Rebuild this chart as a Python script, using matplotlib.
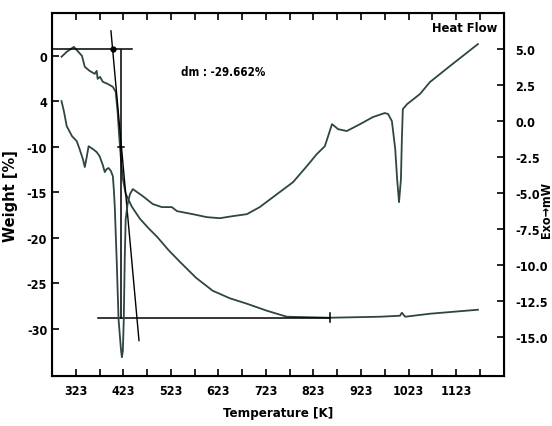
import matplotlib
matplotlib.use("Agg")
import matplotlib.pyplot as plt
import numpy as np

plt.rcParams['font.family'] = ['DejaVu Sans']
plt.rcParams['font.stretch'] = 'condensed'
plt.rcParams['font.weight'] = 'bold'

# TG curve (weight %)
tg_temp = [293, 304, 319, 336, 342, 352, 363, 367, 369, 374, 380, 390, 401, 407,
           411, 414, 418, 422, 428, 441, 458, 476, 494, 518, 542, 576, 611, 647,
           683, 725, 767, 858, 963, 1005, 1009, 1016, 1068, 1169]
tg_weight = [-0.1, 0.44, 0.99, 0.0, -1.21, -1.65, -1.98, -1.65, -2.53, -2.31, -2.86,
             -3.08, -3.41, -3.96, -6.15, -8.57, -11.32, -13.52, -15.16, -16.59,
             -17.91, -18.95, -19.89, -21.35, -22.64, -24.4, -25.82, -26.65,
             -27.25, -28.02, -28.68, -28.79, -28.68, -28.57, -28.24, -28.68,
             -28.35, -27.91]

# DSC curve (heat flow mW)
dsc_temp = [293, 298, 304, 315, 325, 331, 338, 342, 346, 350, 359, 367, 373, 380,
            384, 388, 392, 397, 401, 403, 405, 409, 413, 418, 420, 422, 424, 426,
            428, 432, 437, 443, 464, 485, 504, 525, 536, 569, 599, 626, 653, 683,
            710, 752, 780, 809, 830, 847, 862, 875, 893, 921, 948, 973, 980, 988,
            995, 999, 1003, 1007, 1009, 1011, 1020, 1047, 1068, 1110, 1169]
dsc_flow = [1.39, 0.69, -0.35, -1.04, -1.39, -1.94, -2.64, -3.19, -2.5, -1.74,
            -1.94, -2.15, -2.43, -3.06, -3.54, -3.33, -3.26, -3.47, -3.82, -4.72,
            -5.9, -9.58, -13.75, -15.83, -16.39, -15.97, -13.75, -9.58, -6.81,
            -5.76, -5.07, -4.72, -5.21, -5.76, -5.97, -5.97, -6.25, -6.46, -6.67,
            -6.74, -6.6, -6.46, -5.97, -4.93, -4.24, -3.13, -2.29, -1.74, -0.21,
            -0.56, -0.69, -0.21, 0.28, 0.56, 0.49, 0.0, -1.94, -4.03, -5.63,
            -4.03, -1.25, 0.83, 1.18, 1.88, 2.71, 3.82, 5.35]

weight_ticks = [0, -5, -10, -15, -20, -25, -30]
weight_labels = ['0', '4', '-10', '-15', '-20', '-25', '-30']
flow_ticks = [5.0, 2.5, 0.0, -2.5, -5.0, -7.5, -10.0, -12.5, -15.0]
temp_ticks = [323, 423, 523, 623, 723, 823, 923, 1023, 1123]

curve_color = '#2e4544'

fig = plt.figure(figsize=(5.52, 4.27), dpi=100)
ax = fig.add_axes([0.0942, 0.117, 0.819, 0.850])
ax.plot(tg_temp, tg_weight, color=curve_color, lw=1.3)

# step evaluation construction
ax.plot([273, 441], [0.77, 0.77], color='black', lw=1.1)
ax.plot([401], [0.77], 'o', color='black', ms=3.5)
ax.plot([418, 418], [0.66, -28.8], color='black', lw=1.1)
ax.plot([412, 424], [-10, -10], color='black', lw=1.1)
ax.plot([369, 858], [-28.8, -28.8], color='black', lw=1.1)
ax.plot([858, 858], [-28.3, -29.3], color='black', lw=1.1)
ax.plot([397, 456], [2.75, -31.3], color='black', lw=1.0)

ax.set_xlim(273, 1224)
ax.set_ylim(-35.2, 4.7)
ax.set_xticks(temp_ticks)
ax.set_xticks(np.arange(373, 1200, 100), minor=True)
ax.set_yticks(weight_ticks)
ax.set_yticklabels(weight_labels)
ax.tick_params(axis='both', direction='in', length=5, width=1.2, labelsize=9)
ax.tick_params(axis='x', which='both', top=True, direction='in', length=5, width=1.2, pad=6)
ax.set_xlabel('Temperature [K]', fontsize=9.5, fontweight='bold', labelpad=6)
ax.set_ylabel('Weight [%]', fontsize=10.5, fontweight='bold', fontstretch='normal')
ax.yaxis.set_label_coords(-0.075, 0.5)
for s in ax.spines.values():
    s.set_linewidth(1.5)

ax2 = ax.twinx()
ax2.plot(dsc_temp, dsc_flow, color=curve_color, lw=1.3)
ax2.set_ylim(-17.7, 7.5)
ax2.set_yticks(flow_ticks)
ax2.set_yticklabels(['%.1f' % v for v in flow_ticks])
ax2.tick_params(axis='y', direction='in', length=5, width=1.2, labelsize=9, pad=8)
ax2.set_ylabel('Exo\u2192mW', fontsize=9, fontweight='bold')
ax2.yaxis.set_label_coords(1.08, 0.46)

ax.text(0.985, 0.961, 'Heat Flow', transform=ax.transAxes, ha='right', va='center',
        fontsize=9.3, fontweight='bold')
ax.text(0.285, 0.84, 'dm : -29.662%', transform=ax.transAxes, ha='left', va='center',
        fontsize=8.3, fontweight='bold')

fig.savefig('out.png', dpi=100)
